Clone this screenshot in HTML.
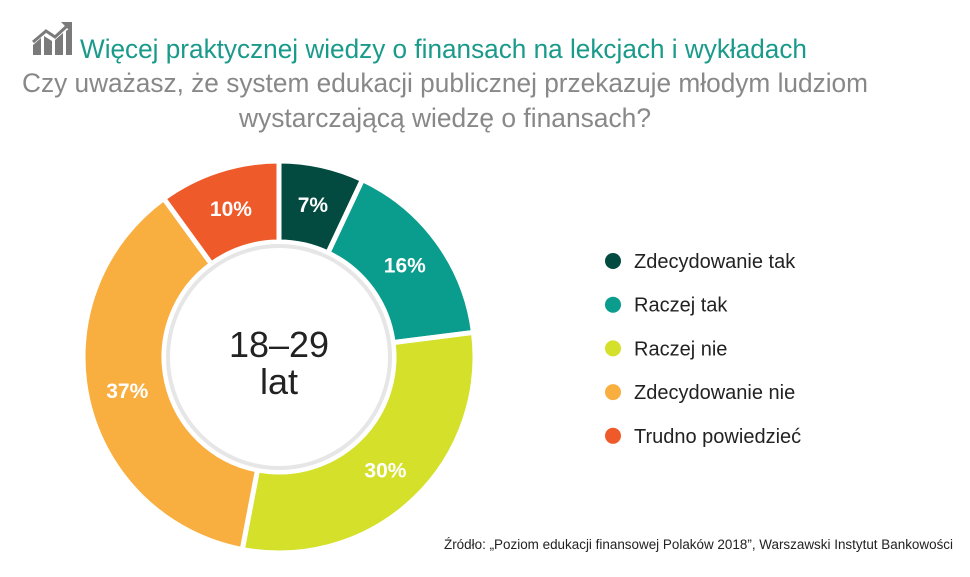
<!DOCTYPE html>
<html><head><meta charset="utf-8"><style>
html,body{margin:0;padding:0;background:#fff;}
body{width:970px;height:572px;overflow:hidden;font-family:"Liberation Sans",sans-serif;}
</style></head><body>
<svg id="chart" width="970" height="572" viewBox="0 0 970 572" xmlns="http://www.w3.org/2000/svg">
  <g fill="#7a7a7a">
    <polygon points="33,55 33,45 41,38 41,55"/>
    <polygon points="44,55 44,36 52,41 52,55"/>
    <polygon points="55,55 55,40 63,33 63,55"/>
    <polygon points="66,55 66,31 72,27 72,55"/>
    <polyline points="33,42 46,31 55,37 67,26" fill="none" stroke="#7a7a7a" stroke-width="3"/>
    <polygon points="61,22 72,22 72,33"/>
  </g>
  <text x="80" y="58" font-size="27" fill="#1a9a8a" textLength="727" lengthAdjust="spacingAndGlyphs">Więcej praktycznej wiedzy o finansach na lekcjach i wykładach</text>
  <text x="445" y="92" font-size="27" fill="#888" text-anchor="middle" textLength="846" lengthAdjust="spacingAndGlyphs">Czy uważasz, że system edukacji publicznej przekazuje młodym ludziom</text>
  <text x="445" y="127" font-size="27" fill="#888" text-anchor="middle" textLength="412" lengthAdjust="spacingAndGlyphs">wystarczającą wiedzę o finansach?</text>
  <circle cx="279" cy="357" r="198" fill="#e8e8e8"/>
  <g id="slices"></g>
  <circle cx="279" cy="357" r="113" fill="#e6e6e6"/>
  <circle cx="279" cy="357" r="109" fill="#fff"/>
  <text x="279" y="357" font-size="36" fill="#222" text-anchor="middle">18–29</text>
  <text x="279" y="394" font-size="36" fill="#222" text-anchor="middle">lat</text>
  <g id="legend"></g>
  <text x="444" y="549" font-size="13.5" fill="#222" textLength="509" lengthAdjust="spacingAndGlyphs">Źródło: „Poziom edukacji finansowej Polaków 2018”, Warszawski Instytut Bankowości</text>
</svg>
<script>
const categories = ["Zdecydowanie tak","Raczej tak","Raczej nie","Zdecydowanie nie","Trudno powiedzieć"];
const values = [7,16,30,37,10];
const valueLabels = ["7%","16%","30%","37%","10%"];
const colors = ["#034b40","#0a9c8c","#d4e02a","#f9ae40","#ef5a2a"];
const NS="http://www.w3.org/2000/svg";
const cx=279, cy=357, R=196, r=115;
const total=values.reduce((a,b)=>a+b,0);
function pt(ang,rad){return [cx+rad*Math.sin(ang), cy-rad*Math.cos(ang)];}
const g=document.getElementById('slices');
let acc=0;
values.forEach((v,i)=>{
  const a0=acc/total*2*Math.PI, a1=(acc+v)/total*2*Math.PI; acc+=v;
  const large=(a1-a0)>Math.PI?1:0;
  const p0=pt(a0,R),p1=pt(a1,R),q1=pt(a1,r),q0=pt(a0,r);
  const p=document.createElementNS(NS,'path');
  p.setAttribute('d',`M${p0[0]},${p0[1]} A${R},${R} 0 ${large} 1 ${p1[0]},${p1[1]} L${q1[0]},${q1[1]} A${r},${r} 0 ${large} 0 ${q0[0]},${q0[1]} Z`);
  p.setAttribute('fill',colors[i]);
  p.setAttribute('stroke','#fff');
  p.setAttribute('stroke-width','5');
  
  
  g.appendChild(p);
  const am=(a0+a1)/2, lp=pt(am,(R+r)/2);
  const t=document.createElementNS(NS,'text');
  t.setAttribute('x',lp[0]); t.setAttribute('y',lp[1]+7);
  t.setAttribute('text-anchor','middle'); t.setAttribute('font-size','21');
  t.setAttribute('font-weight','bold'); t.setAttribute('fill','#fff');
  t.textContent=valueLabels[i];
  
  
  g.appendChild(t);
});
const lg=document.getElementById('legend');
categories.forEach((c,i)=>{
  const y=261+i*43.7;
  const e=document.createElementNS(NS,'g');
  
  
  const d=document.createElementNS(NS,'circle');
  d.setAttribute('cx',613); d.setAttribute('cy',y); d.setAttribute('r',8); d.setAttribute('fill',colors[i]);
  
  
  const t=document.createElementNS(NS,'text');
  t.setAttribute('x',634); t.setAttribute('y',y+7); t.setAttribute('font-size','20'); t.setAttribute('fill','#222');
  t.textContent=c;
  
  
  e.appendChild(d); e.appendChild(t); lg.appendChild(e);
});
</script>
</body></html>
